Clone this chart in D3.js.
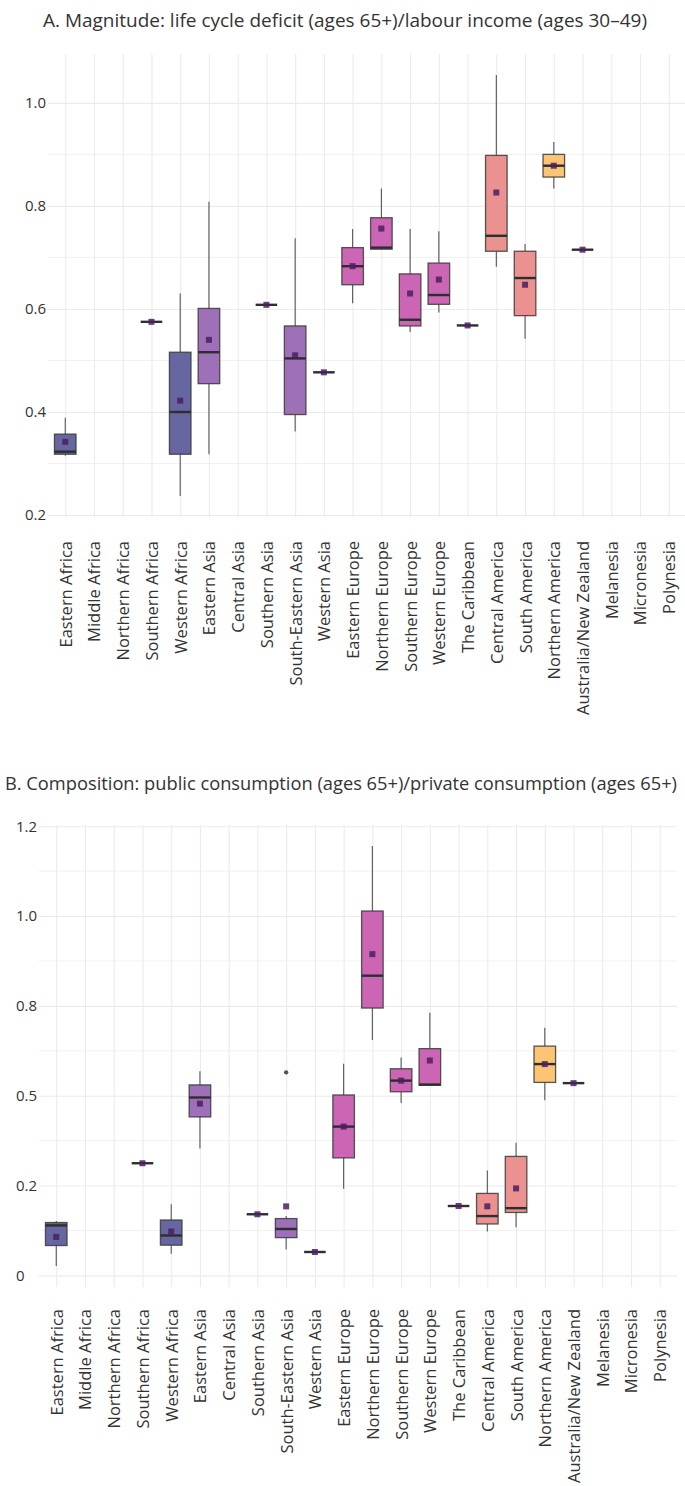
<!DOCTYPE html>
<html>
<head>
<meta charset="utf-8">
<script src="https://cdn.jsdelivr.net/npm/d3@7"></script>
<style>
  html, body { margin: 0; padding: 0; background: #fff; }
  svg { display: block; }
  text { font-family: "Open Sans", "Noto Sans", sans-serif; fill: #333; }
</style>
</head>
<body>
<svg id="chart" width="685" height="1486"></svg>
<script>
// ---------- data ----------
const categories = ["Eastern Africa","Middle Africa","Northern Africa","Southern Africa","Western Africa",
  "Eastern Asia","Central Asia","Southern Asia","South-Eastern Asia","Western Asia",
  "Eastern Europe","Northern Europe","Southern Europe","Western Europe",
  "The Caribbean","Central America","South America","Northern America",
  "Australia/New Zealand","Melanesia","Micronesia","Polynesia"];
const groups = ["Africa","Africa","Africa","Africa","Africa",
  "Asia","Asia","Asia","Asia","Asia",
  "Europe","Europe","Europe","Europe",
  "LatAm","LatAm","LatAm","NorthAm",
  "Oceania","Oceania","Oceania","Oceania"];
const groupNames = ["Africa","Asia","Europe","LatAm","NorthAm","Oceania"];
const groupColors = ["#5e5e9c","#9868b4","#c95db0","#ea8c8a","#fdc16c","#f3d36a"];

// Panel A: life cycle deficit (65+) / labour income (30-49)
const aMin  = [0.315,null,null,0.575,0.237,0.318,null,0.608,0.362,0.477,0.611,0.715,0.555,0.593,0.568,0.682,0.542,0.834,0.715,null,null,null];
const aQ1   = [0.318,null,null,0.575,0.318,0.455,null,0.608,0.395,0.477,0.647,0.716,0.567,0.609,0.568,0.712,0.587,0.856,0.715,null,null,null];
const aMed  = [0.323,null,null,0.575,0.400,0.516,null,0.608,0.504,0.477,0.683,0.719,0.579,0.627,0.568,0.742,0.660,0.878,0.715,null,null,null];
const aQ3   = [0.357,null,null,0.575,0.516,0.601,null,0.608,0.567,0.477,0.719,0.777,0.668,0.689,0.568,0.898,0.712,0.900,0.715,null,null,null];
const aMax  = [0.389,null,null,0.575,0.630,0.808,null,0.608,0.737,0.477,0.755,0.834,0.755,0.751,0.568,1.054,0.726,0.924,0.715,null,null,null];
const aMean = [0.342,null,null,0.575,0.422,0.540,null,0.608,0.510,0.477,0.683,0.756,0.630,0.657,0.568,0.826,0.647,0.878,0.715,null,null,null];
const aOutliers = [];
const aTicks = [0.2,0.4,0.6,0.8,1.0];
const aTickLabels = ["0.2","0.4","0.6","0.8","1.0"];
const aMinorTicks = [0.3,0.5,0.7,0.9];

// Panel B: public consumption (65+) / private consumption (65+)
const bMin  = [0.026,null,null,0.312,0.060,0.353,null,0.170,0.072,0.065,0.241,0.655,0.480,0.529,0.193,0.122,0.134,0.487,0.535,null,null,null];
const bQ1   = [0.083,null,null,0.312,0.084,0.441,null,0.170,0.105,0.065,0.327,0.744,0.511,0.529,0.193,0.143,0.175,0.537,0.535,null,null,null];
const bMed  = [0.139,null,null,0.312,0.111,0.495,null,0.170,0.129,0.065,0.414,0.834,0.542,0.531,0.193,0.165,0.187,0.588,0.535,null,null,null];
const bQ3   = [0.147,null,null,0.312,0.154,0.530,null,0.170,0.158,0.065,0.502,1.014,0.575,0.631,0.193,0.228,0.331,0.638,0.535,null,null,null];
const bMax  = [0.151,null,null,0.312,0.198,0.568,null,0.170,0.165,0.065,0.589,1.195,0.606,0.731,0.193,0.292,0.369,0.689,0.535,null,null,null];
const bMean = [0.107,null,null,0.312,0.122,0.478,null,0.170,0.192,0.065,0.414,0.894,0.542,0.598,0.193,0.192,0.242,0.588,0.535,null,null,null];
const bOutliers = [{cat:"South-Eastern Asia", value:0.565}];
const bTicks = [0,0.25,0.5,0.75,1.0,1.25];
const bTickLabels = ["0","0.2","0.5","0.8","1.0","1.2"];
const bMinorTicks = [0.125,0.375,0.625,0.875,1.125];

const titleA = "A. Magnitude: life cycle deficit (ages 65+)/labour income (ages 30\u201349)";
const titleB = "B. Composition: public consumption (ages 65+)/private consumption (ages 65+)";

// ---------- drawing ----------
const svg = d3.select("#chart");
svg.append("rect").attr("width",685).attr("height",1486).attr("fill","#fff");
const color = d3.scaleOrdinal().domain(groupNames).range(groupColors);

function panel(cfg) {
  const {left, right, top, bottom, min, q1, med, q3, max, mean, outliers,
         ticks, tickLabels, minorTicks, labelTop, tickX} = cfg;
  const x = d3.scalePoint().domain(categories).range([left, right]).padding(0.6);
  const allVals = [...min, ...max, ...outliers.map(o => o.value)].filter(v => v != null);
  const lo = d3.min(allVals), hi = d3.max(allVals), pad = (hi - lo) * 0.05;
  const y = d3.scaleLinear().domain([lo - pad, hi + pad]).range([bottom, top]);
  const g = svg.append("g");
  const step = x.step();
  const bw = step * 0.75;

  // minor grid
  g.append("g").selectAll("line").data(minorTicks).join("line")
    .attr("x1", left).attr("x2", right).attr("y1", d => y(d)).attr("y2", d => y(d))
    .attr("stroke", "#efefef").attr("stroke-width", 0.9);
  // y axis (major grid + labels)
  const ya = g.append("g").attr("transform", `translate(${left},0)`)
    .call(d3.axisLeft(y).tickValues(ticks).tickFormat((d,i) => tickLabels[i]).tickSize(-(right-left)).tickPadding(4));
  ya.select(".domain").remove();
  ya.selectAll(".tick line").attr("stroke", "#ebebeb").attr("stroke-width", 1.1);
  ya.selectAll(".tick text").attr("x", tickX - left).attr("text-anchor", "start")
    .style("font-size", "15px").style("font-family", '"Open Sans", sans-serif').attr("fill", "#333");
  // x axis (vertical grid + labels)
  const xa = g.append("g").attr("transform", `translate(0,${bottom})`)
    .call(d3.axisBottom(x).tickSize(-(bottom-top)).tickPadding(0));
  xa.select(".domain").remove();
  xa.selectAll(".tick line").attr("stroke", "#ebebeb").attr("stroke-width", 1.1);
  xa.selectAll(".tick text")
    .attr("transform", `translate(0,${labelTop - bottom}) rotate(-90)`)
    .attr("x", 0).attr("y", 0).attr("dy", "0.36em")
    .attr("text-anchor", "end")
    .style("font-size", "16.5px").style("font-family", '"Open Sans", sans-serif').attr("fill", "#333");

  const idx = d3.range(categories.length).filter(i => med[i] != null);
  const boxes = g.append("g").selectAll("g").data(idx).join("g")
    .attr("transform", i => `translate(${x(categories[i])},0)`);
  // whiskers
  boxes.append("line").attr("x1",0).attr("x2",0)
    .attr("y1", i => y(q3[i])).attr("y2", i => y(max[i]))
    .attr("stroke", "#555").attr("stroke-width", 1.1);
  boxes.append("line").attr("x1",0).attr("x2",0)
    .attr("y1", i => y(q1[i])).attr("y2", i => y(min[i]))
    .attr("stroke", "#555").attr("stroke-width", 1.1);
  // box
  boxes.append("rect")
    .attr("x", -bw/2).attr("width", bw)
    .attr("y", i => y(q3[i])).attr("height", i => Math.max(0, y(q1[i]) - y(q3[i])))
    .attr("fill", i => color(groups[i])).attr("fill-opacity", 0.95)
    .attr("stroke", "#3a3a3a").attr("stroke-opacity", 0.85).attr("stroke-width", 1.3);
  // median
  boxes.append("line").attr("x1", -bw/2).attr("x2", bw/2)
    .attr("y1", i => y(med[i])).attr("y2", i => y(med[i]))
    .attr("stroke", "#2e2e2e").attr("stroke-width", 2.4);
  // mean squares
  boxes.append("rect").attr("x", -3).attr("width", 6).attr("height", 6)
    .attr("y", i => y(mean[i]) - 3)
    .attr("fill", "#4a1f63").attr("fill-opacity", 0.85);
  // outliers
  g.append("g").selectAll("circle").data(outliers).join("circle")
    .attr("cx", d => x(d.cat)).attr("cy", d => y(d.value)).attr("r", 2.2)
    .attr("fill", "#555");
}

panel({left:48, right:686, top:54, bottom:517, min:aMin, q1:aQ1, med:aMed, q3:aQ3, max:aMax, mean:aMean,
  outliers:aOutliers, ticks:aTicks, tickLabels:aTickLabels, minorTicks:aMinorTicks, labelTop:541, tickX:25});
panel({left:39, right:677, top:825, bottom:1287, min:bMin, q1:bQ1, med:bMed, q3:bQ3, max:bMax, mean:bMean,
  outliers:bOutliers, ticks:bTicks, tickLabels:bTickLabels, minorTicks:bMinorTicks, labelTop:1309, tickX:16});

svg.append("text").text(titleA).attr("x", 345).attr("y", 27).attr("text-anchor", "middle")
  .attr("textLength", 604).attr("lengthAdjust", "spacingAndGlyphs")
  .style("font-size", "17.5px").attr("fill", "#333");
svg.append("text").text(titleB).attr("x", 5).attr("y", 790).attr("text-anchor", "start")
  .attr("textLength", 672).attr("lengthAdjust", "spacingAndGlyphs")
  .style("font-size", "17.5px").attr("fill", "#333");
</script>
</body>
</html>
